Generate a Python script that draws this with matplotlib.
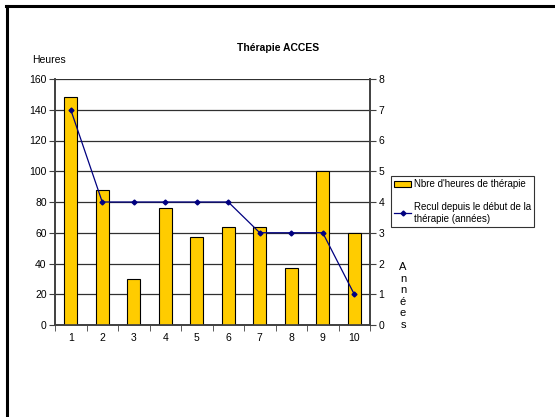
import numpy as np
import matplotlib.pyplot as plt
from matplotlib.lines import Line2D

plt.rcParams['font.family'] = ['Liberation Sans', 'DejaVu Sans']

seances = [1, 2, 3, 4, 5, 6, 7, 8, 9, 10]
heures = [148, 88, 30, 76, 57, 64, 64, 37, 100, 60]
recul = [7, 4, 4, 4, 4, 4, 3, 3, 3, 1]

W, H = 555, 417
fig = plt.figure(figsize=(W / 100, H / 100), dpi=100)

# axes in pixel coords: x 55..370, y 79..325
ax = fig.add_axes([55 / W, 1 - 325 / H, (370 - 55) / W, (325 - 79) / H])
ax2 = ax.twinx()

x = np.array(seances)
ax.bar(x, heures, width=0.4, color='#FFCC00', edgecolor='black', linewidth=0.8, zorder=3)
ax.set_ylim(0, 160)
ax.set_xlim(0.5, 10.5)
ax.set_yticks(np.arange(0, 161, 20))
ax.yaxis.grid(True, color='#303030', linewidth=0.9, zorder=0)
ax.set_axisbelow(True)

ax.set_xticks(x)
ax.set_xticks(np.arange(0.5, 11, 1), minor=True)
ax.tick_params(axis='x', which='major', length=0, pad=6, labelsize=7.5)
ax.tick_params(axis='x', which='minor', length=4, direction='out', color='#404040')
ax.tick_params(axis='y', length=4, direction='out', labelsize=7.5, color='#404040', pad=2)

ax2.plot(x, recul, color='#000080', linewidth=0.9, marker='D', markersize=2.5, zorder=4)
ax2.set_ylim(0, 8)
ax2.set_yticks(np.arange(0, 9, 1))
ax2.tick_params(axis='y', length=4, direction='out', labelsize=7.5, color='#404040', pad=2)

for a in (ax, ax2):
    a.spines['top'].set_visible(False)
    for s in ('left', 'right', 'bottom'):
        a.spines[s].set_color('#404040')
        a.spines[s].set_linewidth(1.2)

fig.text(278 / W, 1 - 48 / H, 'Thérapie ACCES', ha='center', va='center',
         fontsize=7.5, fontweight='bold')
fig.text(32 / W, 1 - 60 / H, 'Heures', ha='left', va='center', fontsize=7.5)
fig.text(403 / W, 1 - 296 / H, '\n'.join('Années'), ha='center', va='center',
         fontsize=8, linespacing=1.2)

handles = [plt.Rectangle((0, 0), 1, 1, facecolor='#FFCC00', edgecolor='black', linewidth=0.8),
           Line2D([], [], color='#000080', linewidth=0.9, marker='D', markersize=2.5)]
labels = ["Nbre d'heures de thérapie", 'Recul depuis le début de la\nthérapie (années)']
leg = fig.legend(handles, labels, loc='upper left',
                 bbox_to_anchor=(391 / W, 1 - 176 / H), fontsize=7,
                 frameon=True, fancybox=False, edgecolor='black', handlelength=1.7,
                 handletextpad=0.3, borderpad=0.35, labelspacing=1.3, borderaxespad=0)
leg.get_frame().set_linewidth(0.8)

# page frame (top and left edges)
fig.add_artist(Line2D([6 / W, 1], [1 - 6 / H, 1 - 6 / H], color='black', linewidth=2.2,
                      transform=fig.transFigure))
fig.add_artist(Line2D([7 / W, 7 / W], [0, 1 - 6 / H], color='black', linewidth=2.2,
                      transform=fig.transFigure))

fig.savefig('out.png', dpi=100)
